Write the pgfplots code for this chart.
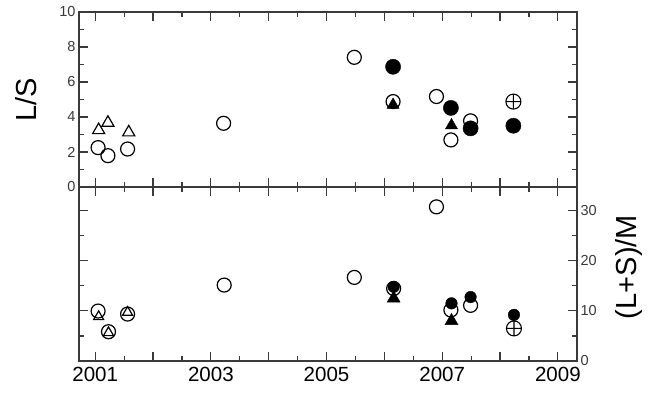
\documentclass[border=0pt]{standalone}
\usepackage{fontspec}
\setmainfont{Liberation Sans}
\usepackage{pgfplots}
\pgfplotsset{compat=1.18}
\definecolor{axgray}{HTML}{3A3A3A}
\pgfplotsset{
  common/.style={
    scale only axis, width=498pt,
    xmin=2000.72, xmax=2009.33,
    xtick={2001,2002,...,2009},
    minor xtick={2001.5,2002.5,...,2008.5},
    tick align=inside,
    major tick length=9pt, minor tick length=5pt,
    axis line style={axgray, line width=1.3pt},
    every tick/.style={axgray, line width=1.2pt},
    /pgf/number format/assume math mode=true,
    clip=false,
  },
  oc/.style={only marks, mark=o, mark size=7pt, mark options={draw=black, fill=white, line width=1.2pt}},
  ot/.style={only marks, mark=triangle, mark options={draw=black, fill=white, line width=1.2pt}},
  ox/.style={only marks, mark=oplus, mark size=7.5pt, mark options={draw=black, fill=white, line width=1.1pt}},
  fc/.style={only marks, mark=*, mark options={draw=black, fill=black}},
  ft/.style={only marks, mark=triangle*, mark size=7.5pt, mark options={draw=black, fill=black}},
}
\begin{document}
\begin{tikzpicture}[x=1pt,y=1pt]
\useasboundingbox (0,0) rectangle (654,395);
% top panel
\begin{axis}[common,
  at={(79pt,208pt)}, anchor=south west, height=175pt,
  ymin=0, ymax=10,
  ytick={0,2,...,10}, minor ytick={1,3,...,9},
  xticklabels={},
  yticklabel style={font=\fontsize{14.5}{16}\selectfont, text=axgray},
  ylabel={L/S},
  every axis y label/.style={at={(axis description cs:-0.106,0.5)}, anchor=center, rotate=90,
     font=\fontsize{29}{31}\selectfont},
]
\addplot[oc] coordinates {(2001.05,2.25) (2001.22,1.79) (2001.56,2.17) (2003.22,3.64) (2005.48,7.41) (2006.15,4.88) (2006.90,5.17) (2007.15,2.69) (2007.49,3.78)};
\addplot[ot, mark size=7pt] coordinates {(2001.06,3.25) (2001.22,3.67) (2001.58,3.12)};
\addplot[ox] coordinates {(2008.23,4.88)};
\addplot[fc, mark size=7.6pt] coordinates {(2006.15,6.87) (2007.15,4.52) (2007.49,3.35) (2008.23,3.50)};
\addplot[ft, mark size=7pt] coordinates {(2006.15,4.69) (2007.16,3.52)};
\end{axis}
% bottom panel
\begin{axis}[common,
  at={(79pt,34pt)}, anchor=south west, height=174pt,
  ymin=0, ymax=34.7,
  ytick={0,10,20,30}, minor ytick={5,15,25},
  yticklabel pos=right,
  xticklabels={2001,,2003,,2005,,2007,,2009},
  xticklabel style={font=\fontsize{20.5}{22}\selectfont, yshift=-3pt},
  yticklabel style={font=\fontsize{14.5}{16}\selectfont, text=axgray},
  ylabel={(L+S)/M},
  every axis y label/.style={at={(axis description cs:1.104,0.54)}, anchor=center, rotate=90,
     font=\fontsize{29}{31}\selectfont},
]
\addplot[oc] coordinates {(2001.05,9.96) (2001.23,5.84) (2001.56,9.36) (2003.23,15.14) (2005.48,16.67) (2006.16,14.45) (2006.90,30.74) (2007.15,10.16) (2007.49,11.1)};
\addplot[ot, mark size=5.8pt] coordinates {(2001.06,8.83) (2001.23,5.64) (2001.56,9.7)};
\addplot[ox] coordinates {(2008.24,6.5)};
\addplot[fc, mark size=5.8pt] coordinates {(2006.16,14.8) (2007.16,11.5) (2007.49,12.75) (2008.24,9.2)};
\addplot[ft] coordinates {(2006.16,12.48) (2007.16,8.0)};
\end{axis}
\end{tikzpicture}
\end{document}
